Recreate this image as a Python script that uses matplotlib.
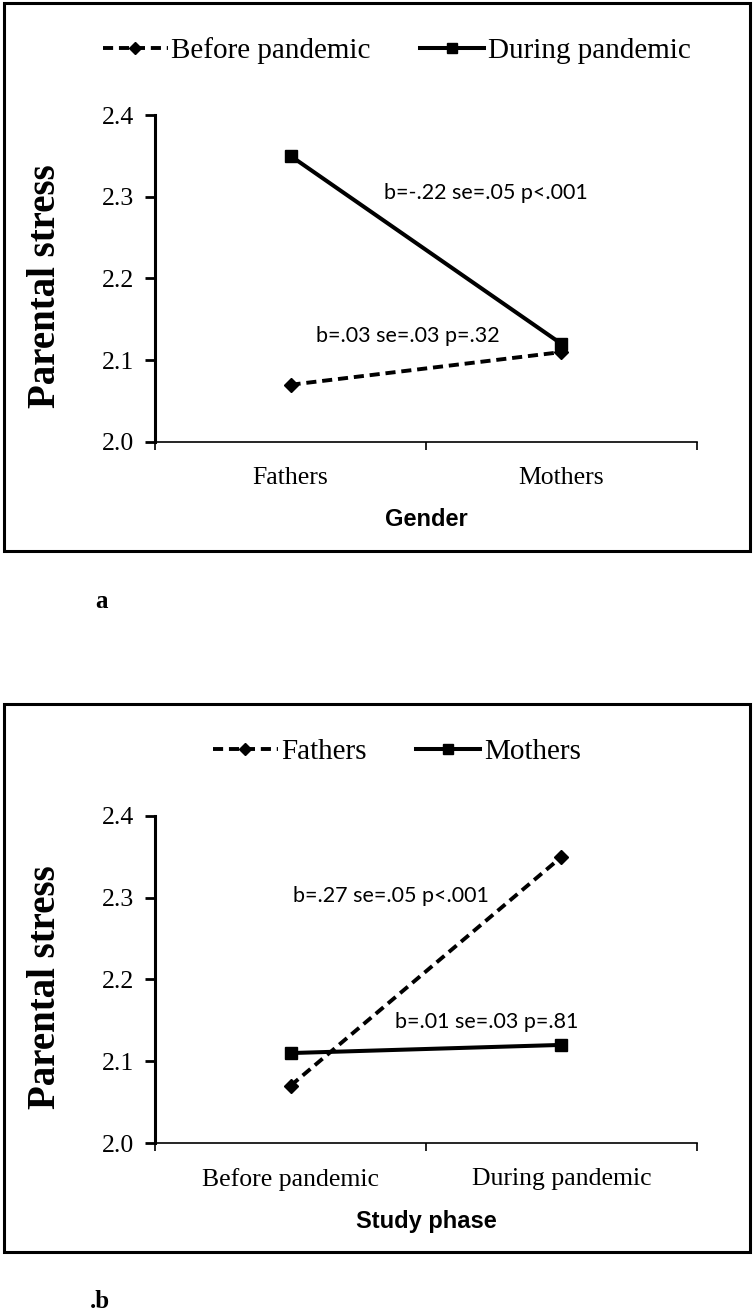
import matplotlib.pyplot as plt
from matplotlib.patches import Rectangle

# data
gender_cats = ['Fathers', 'Mothers']
before_pandemic = [2.07, 2.11]
during_pandemic = [2.35, 2.12]

phase_cats = ['Before pandemic', 'During pandemic']
fathers = [2.07, 2.35]
mothers = [2.11, 2.12]

yticks = [2.0, 2.1, 2.2, 2.3, 2.4]

notes_a = ['b=-.22 se=.05 p<.001', 'b=.03 se=.03 p=.32']
notes_b = ['b=.27 se=.05 p<.001', 'b=.01 se=.03 p=.81']

W, H = 755, 1311
serif = 'Liberation Serif'
sans = 'Liberation Sans'
note_font = 'Lato'


def px(x, y):
    """convert pixel position (from top left) to figure fraction"""
    return x / W, 1 - y / H


def drawPanel(top, cats, dashed, solid, names, xlabel, notes, note_pos, letter, letter_pos):
    fig = plt.gcf()
    # outer frame
    x0, y0 = px(4, top + 548)
    fig.add_artist(Rectangle((x0, y0), 746 / W, 548 / H, transform=fig.transFigure,
                             fill=False, lw=2.2, ec='black'))

    # axes area: x 155..697, y 2.4 at top+112, 2.0 at top+439
    l, b = px(155, top + 439)
    ax = fig.add_axes([l, b, 542 / W, 327 / H])
    xs = [0.5, 1.5]
    l1, = ax.plot(xs, dashed, color='black', lw=2.8, ls=(0, (2.6, 1.5)),
                  marker='D', ms=7.5, mfc='black', mec='black', label=names[0])
    l2, = ax.plot(xs, solid, color='black', lw=2.9, ls='-',
                  marker='s', ms=9, mfc='black', mec='black', label=names[1])

    ax.set_xlim(0, 2)
    ax.set_ylim(2.0, 2.4)
    ax.set_yticks(yticks)
    ax.set_yticklabels(['%.1f' % t for t in yticks], fontsize=18.5, family=serif)
    ax.set_xticks([0, 1, 2])
    ax.set_xticklabels([])
    ax.set_xticks(xs, minor=True)
    ax.set_xticklabels(cats, minor=True, fontsize=18.5, family=serif)
    ax.tick_params(axis='x', which='minor', length=0, pad=18)
    ax.tick_params(axis='x', which='major', length=6, width=1.2, direction='out')
    ax.tick_params(axis='y', length=7, width=2, direction='out', pad=8)
    for s in ['top', 'right']:
        ax.spines[s].set_visible(False)
    ax.spines['left'].set_linewidth(2.2)
    ax.spines['bottom'].set_linewidth(1.2)

    ax.set_xlabel(xlabel, fontsize=17, fontweight='bold', family=sans, labelpad=14)

    # y label
    lx, ly = px(46, top + 283)
    fig.text(lx, ly, 'Parental stress', rotation=90, ha='center', va='center',
             fontsize=28, fontweight='bold', family=serif)

    for txt, (nx, ny) in zip(notes, note_pos):
        ax.text(nx, ny, txt, ha='center', va='center', fontsize=15.5, family=note_font)

    # legend on top
    lgx, lgy = px(397, top + 48)
    fig.legend(handles=[l1, l2], loc='center', bbox_to_anchor=(lgx, lgy), ncol=2,
               frameon=False, prop={'family': serif, 'size': 21}, handlelength=2.2,
               handletextpad=0.12, columnspacing=1.7, markerscale=0.8)

    tx, ty = px(*letter_pos)
    fig.text(tx, ty, letter, ha='center', va='center', fontsize=18,
             fontweight='bold', family=serif)
    return ax


fig = plt.figure(figsize=(W / 100, H / 100), dpi=100)

drawPanel(3, gender_cats, before_pandemic, during_pandemic,
          ['Before pandemic', 'During pandemic'], 'Gender', notes_a,
          [(1.221, 2.305), (0.934, 2.130)], 'a', (102, 601))

drawPanel(704, phase_cats, fathers, mothers, ['Fathers', 'Mothers'],
          'Study phase', notes_b, [(0.871, 2.302), (1.225, 2.148)], '.b', (100, 1302))

plt.savefig('out.png', dpi=100)
